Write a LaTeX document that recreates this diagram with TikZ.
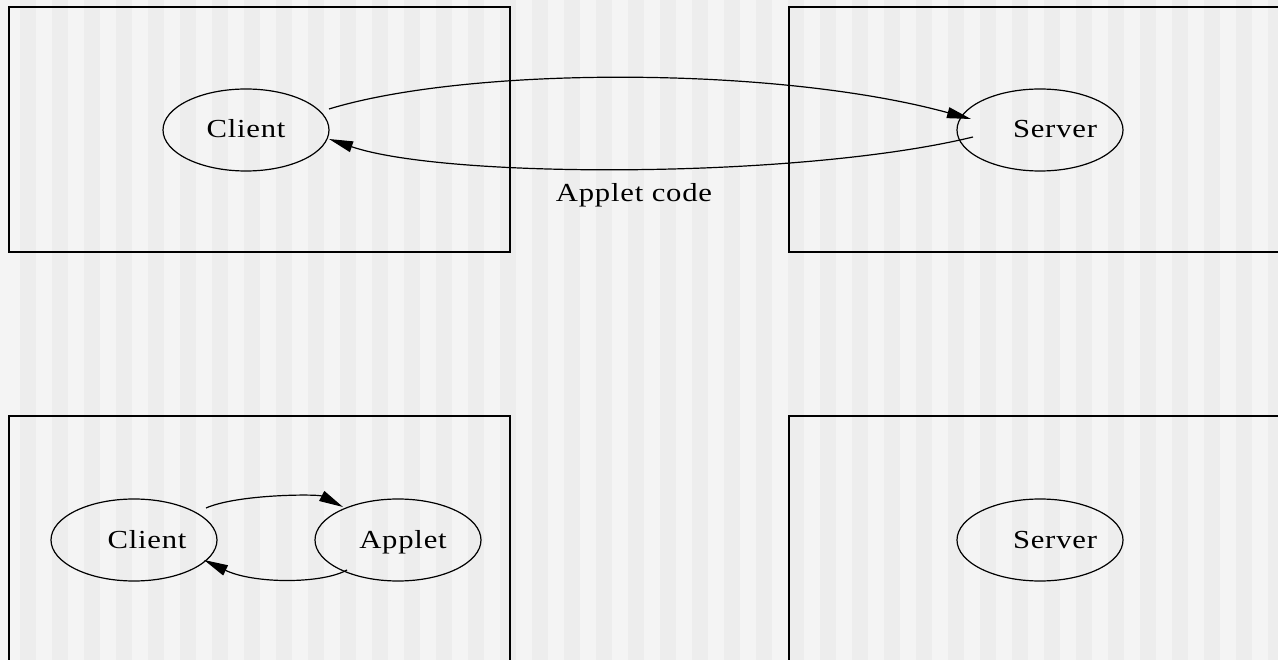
\documentclass[tikz,border=0pt]{standalone}
\usepackage{fontspec}
\setmainfont{Liberation Serif}[LetterSpace=3, FakeStretch=1.18]
\usepackage{tikz}
\usetikzlibrary{positioning, arrows.meta, calc, shapes.geometric}

\definecolor{stripelight}{HTML}{F4F4F4}
\definecolor{stripedark}{HTML}{EDEDED}

\tikzset{
    host/.style={draw=black, line width=1.5pt},
    proc/.style={ellipse, draw=black, line width=1.2pt, minimum width=166pt, minimum height=82pt, inner sep=0pt},
    tag/.style={font=\fontsize{26}{30}\selectfont, inner sep=0pt, text height=17pt, text depth=1pt},
    msg/.style={draw=black, line width=1.2pt, -{Triangle[length=24pt, width=11pt]}},
}

\begin{document}
\begin{tikzpicture}[x=1pt, y=-1pt]
    \clip (0,0) rectangle (1278,660);
    \fill[stripelight] (0,0) rectangle (1278,660);
    \foreach \i in {0,...,39} {
        \fill[stripedark] (20+32*\i,0) rectangle +(16,660);
    }

    % hosts
    \draw[host] (9,7) rectangle (510,252);
    \draw[host] (789,7) rectangle (1300,252);
    \draw[host] (9,416) rectangle (510,680);
    \draw[host] (789,416) rectangle (1300,680);

    % before download
    \node[proc, label={[tag, name=client1-txt]center:Client}] (client1) at (246,130) {};
    \node[proc, label={[tag, name=server1-txt, xshift=15pt]center:Server}] (server1) at (1040,130) {};
    \draw[msg] ($(client1)+(83,-21)$) .. controls (470,66) and (777,66) .. ($(server1)+(-69,-11)$);
    \draw[msg] ($(server1)+(-67,7)$) .. controls (800,179) and (446,179) .. ($(client1)+(83,9)$);
    \node[tag] (code) at (634,194) {Applet code};

    % after download
    \node[proc, label={[tag, name=client2-txt, xshift=13pt]center:Client}] (client2) at (134,540) {};
    \node[proc, label={[tag, name=applet2-txt, xshift=5pt]center:Applet}] (applet2) at (398,540) {};
    \node[proc, label={[tag, name=server2-txt, xshift=15pt]center:Server}] (server2) at (1040,540) {};
    \draw[msg] ($(client2)+(72,-32)$) .. controls (238,494) and (318,494) .. ($(applet2)+(-55,-33)$);
    \draw[msg] ($(applet2)+(-51,30)$) .. controls (322,584) and (254,584) .. ($(client2)+(70,20)$);
\end{tikzpicture}
\end{document}
